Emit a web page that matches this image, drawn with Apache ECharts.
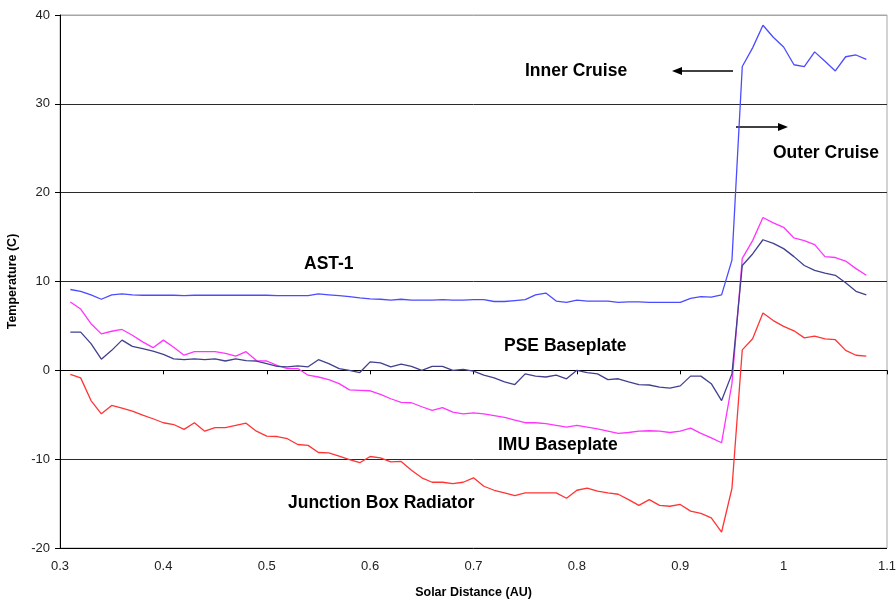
<!DOCTYPE html>
<html>
<head>
<meta charset="utf-8">
<script src="https://cdn.jsdelivr.net/npm/echarts@6/dist/echarts.min.js"></script>
<style>
html,body{margin:0;padding:0;background:#fff;}
#chart{width:896px;height:600px;}
</style>
</head>
<body>
<div id="chart"></div>
<script>
var distance = [0.31,0.32,0.33,0.34,0.35,0.36,0.37,0.38,0.39,0.40,
0.41,0.42,0.43,0.44,0.45,0.46,0.47,0.48,0.49,0.50,
0.51,0.52,0.53,0.54,0.55,0.56,0.57,0.58,0.59,0.60,
0.61,0.62,0.63,0.64,0.65,0.66,0.67,0.68,0.69,0.70,
0.71,0.72,0.73,0.74,0.75,0.76,0.77,0.78,0.79,0.80,
0.81,0.82,0.83,0.84,0.85,0.86,0.87,0.88,0.89,0.90,
0.91,0.92,0.93,0.94,0.95,0.96,0.97,0.98,0.99,1.00,
1.01,1.02,1.03,1.04,1.05,1.06,1.07,1.08];

var ast1 = [9.1,8.9,8.5,8.0,8.5,8.6,8.5,8.45,8.45,8.45,
8.45,8.4,8.45,8.45,8.45,8.45,8.45,8.45,8.45,8.45,
8.4,8.4,8.4,8.4,8.6,8.5,8.4,8.3,8.15,8.05,
8.0,7.9,8.0,7.9,7.9,7.9,7.95,7.9,7.9,7.95,
7.95,7.75,7.75,7.85,7.95,8.5,8.7,7.8,7.65,7.9,
7.8,7.8,7.8,7.65,7.7,7.7,7.65,7.65,7.65,7.65,
8.1,8.3,8.25,8.5,12.4,34.2,36.3,38.85,37.5,36.4,
34.4,34.2,35.85,34.8,33.7,35.3,35.5,35.0];

var imuBaseplate = [7.7,6.9,5.25,4.1,4.4,4.6,3.95,3.2,2.55,3.4,
2.6,1.7,2.1,2.1,2.1,1.9,1.6,2.1,1.1,1.05,
0.55,0.2,0.2,-0.55,-0.75,-1.05,-1.5,-2.2,-2.25,-2.3,
-2.7,-3.2,-3.6,-3.65,-4.1,-4.5,-4.2,-4.7,-4.9,-4.8,
-4.9,-5.1,-5.3,-5.6,-5.9,-5.9,-6.0,-6.2,-6.4,-6.2,
-6.4,-6.6,-6.85,-7.1,-7.0,-6.85,-6.8,-6.85,-7.0,-6.85,
-6.5,-7.1,-7.6,-8.15,-1.5,12.6,14.6,17.2,16.6,16.1,
14.9,14.6,14.15,12.8,12.7,12.3,11.45,10.7];

var pseBaseplate = [4.3,4.3,3.0,1.25,2.25,3.4,2.7,2.45,2.15,1.8,
1.3,1.2,1.3,1.2,1.3,1.05,1.3,1.1,1.05,0.75,
0.45,0.4,0.5,0.4,1.2,0.75,0.2,0.0,-0.25,0.95,
0.85,0.4,0.7,0.45,0.0,0.45,0.45,0.0,0.1,-0.1,
-0.55,-0.85,-1.3,-1.6,-0.4,-0.65,-0.75,-0.55,-0.95,0.0,
-0.25,-0.4,-1.05,-0.95,-1.3,-1.6,-1.65,-1.9,-2.0,-1.75,
-0.65,-0.65,-1.5,-3.4,-0.4,11.8,13.1,14.7,14.3,13.7,
12.8,11.8,11.25,10.95,10.7,9.85,8.9,8.5];

var junctionBoxRadiator = [-0.45,-0.85,-3.4,-4.9,-3.95,-4.25,-4.6,-5.05,-5.45,-5.9,
-6.1,-6.65,-5.9,-6.85,-6.45,-6.45,-6.2,-5.95,-6.85,-7.4,
-7.45,-7.7,-8.35,-8.45,-9.25,-9.3,-9.65,-10.05,-10.4,-9.7,
-9.85,-10.3,-10.25,-11.25,-12.1,-12.6,-12.6,-12.75,-12.6,-12.1,
-13.05,-13.5,-13.8,-14.1,-13.8,-13.8,-13.8,-13.8,-14.4,-13.5,
-13.25,-13.6,-13.8,-13.95,-14.55,-15.2,-14.55,-15.2,-15.3,-15.1,
-15.85,-16.1,-16.6,-18.2,-13.3,2.3,3.55,6.45,5.6,4.95,
4.45,3.65,3.85,3.55,3.45,2.25,1.7,1.6];

var xTicks = {min: 0.3, max: 1.1, interval: 0.1};
var yTicks = {min: -20, max: 40, interval: 10};

function pairs(vals) {
  return distance.map(function (d, i) { return [d, vals[i]]; });
}

var FONT = '"Liberation Sans", Arial, sans-serif';
var labelFont = 'bold 17.5px ' + FONT;

function mkSeries(name, vals, color) {
  return {
    name: name, type: 'line', data: pairs(vals), showSymbol: false,
    symbol: 'none', lineStyle: {color: color, width: 1.3}, itemStyle: {color: color},
    animation: false
  };
}

var chart = echarts.init(document.getElementById('chart'), null, {renderer: 'canvas'});
chart.setOption({
  backgroundColor: '#fff',
  animation: false,
  grid: {left: 60, right: 9, top: 15, bottom: 52, show: true, borderColor: '#a6a6a6', borderWidth: 1,
    containLabel: false, outerBoundsMode: 'none'},
  xAxis: {
    type: 'value', min: xTicks.min, max: xTicks.max, interval: xTicks.interval,
    name: 'Solar Distance (AU)', nameLocation: 'middle', nameGap: 38,
    nameTextStyle: {fontFamily: FONT, fontWeight: 'bold', fontSize: 12.5, color: '#000'},
    axisLine: {show: true, lineStyle: {color: '#000', width: 1}},
    axisTick: {show: true, length: 4, lineStyle: {color: '#000'}},
    axisLabel: {fontFamily: FONT, fontSize: 13, color: '#222', margin: 12,
      formatter: function (v) { return String(+v.toFixed(1)); }},
    splitLine: {show: false}
  },
  yAxis: {
    type: 'value', min: yTicks.min, max: yTicks.max, interval: yTicks.interval,
    name: 'Temperature (C)', nameLocation: 'middle', nameGap: 41, nameRotate: 90,
    nameTextStyle: {fontFamily: FONT, fontWeight: 'bold', fontSize: 12.5, color: '#000'},
    axisLine: {show: true, lineStyle: {color: '#000', width: 1}},
    axisTick: {show: true, length: 5, lineStyle: {color: '#000'}},
    axisLabel: {fontFamily: FONT, fontSize: 13, color: '#222', margin: 10},
    splitLine: {show: true, lineStyle: {color: ['#000','#2a2a2a','#2a2a2a','#2a2a2a','#2a2a2a','#2a2a2a','#a6a6a6'], width: 1}}
  },
  series: [
    mkSeries('AST-1', ast1, '#4b4bff'),
    mkSeries('IMU Baseplate', imuBaseplate, '#ff35ff'),
    mkSeries('Junction Box Radiator', junctionBoxRadiator, '#ff3535'),
    mkSeries('PSE Baseplate', pseBaseplate, '#40408f')
  ],
  graphic: [
    {type: 'text', x: 525, y: 71, style: {text: 'Inner Cruise', font: labelFont, fill: '#000', align: 'left', verticalAlign: 'middle'}},
    {type: 'text', x: 773, y: 153, style: {text: 'Outer Cruise', font: labelFont, fill: '#000', align: 'left', verticalAlign: 'middle'}},
    {type: 'text', x: 304, y: 264, style: {text: 'AST-1', font: labelFont, fill: '#000', align: 'left', verticalAlign: 'middle'}},
    {type: 'text', x: 504, y: 346, style: {text: 'PSE Baseplate', font: labelFont, fill: '#000', align: 'left', verticalAlign: 'middle'}},
    {type: 'text', x: 498, y: 445, style: {text: 'IMU Baseplate', font: labelFont, fill: '#000', align: 'left', verticalAlign: 'middle'}},
    {type: 'text', x: 288, y: 503, style: {text: 'Junction Box Radiator', font: labelFont, fill: '#000', align: 'left', verticalAlign: 'middle'}},
    {type: 'line', shape: {x1: 681, y1: 71, x2: 733, y2: 71}, style: {stroke: '#000', lineWidth: 1.5}},
    {type: 'polygon', shape: {points: [[672, 71], [682, 67], [682, 75]]}, style: {fill: '#000'}},
    {type: 'line', shape: {x1: 736, y1: 127, x2: 779, y2: 127}, style: {stroke: '#000', lineWidth: 1.5}},
    {type: 'polygon', shape: {points: [[788, 127], [778, 123], [778, 131]]}, style: {fill: '#000'}}
  ]
});
</script>
</body>
</html>
